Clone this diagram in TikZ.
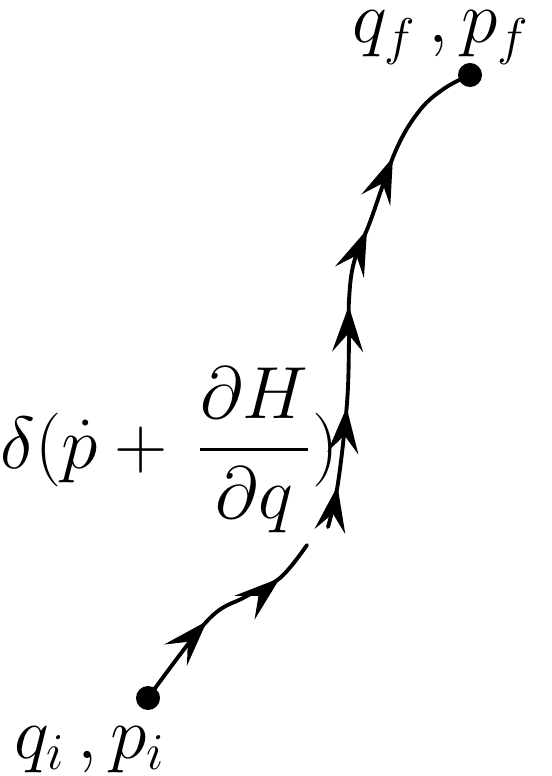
\RequirePackage{fix-cm}
\documentclass[tikz,border=0pt]{standalone}
\usepackage{amsmath}
\usetikzlibrary{arrows.meta, decorations.markings}

\newcommand{\flowtip}{\arrow{Stealth[length=4.6mm, width=3.1mm, inset=1.8mm]}}

\begin{document}
\begin{tikzpicture}[
    x=0.01cm, y=-0.01cm,
    endpoint/.style={circle, fill=black, inner sep=0pt, minimum size=2.4mm},
    lbl/.style={font=\fontsize{21}{25}\selectfont, inner sep=0pt},
    flow/.style={line width=1.1pt, line cap=round, postaction={decorate}},
]
\useasboundingbox (0,0) rectangle (552,776);

% End points
\node[endpoint] (qi) at (148,698) {};
\node[endpoint] (qf) at (470,75) {};

% Labels
\node[lbl, anchor=base] (qilab) at (90,758) {$q_i\,,p_i$};
\node[lbl, anchor=base] (qflab) at (441,43) {$q_f\,,p_f$};
\node[lbl, anchor=base west] (constraint) at (0,468)
    {$\displaystyle \delta(\dot p + \,\frac{\partial H}{\partial q})$};

% Break in the path
\coordinate (brkA) at (307,545);
\coordinate (brkB) at (328,527);

% Path
\draw[flow, decoration={markings,
        mark=at position 0.43 with {\flowtip},
        mark=at position 0.81 with {\flowtip}}]
    plot[smooth, tension=0.6] coordinates {(qi) (208,620) (245,597) (280,578) (brkA)};
\draw[flow, decoration={markings,
        mark=at position 0.085 with {\flowtip},
        mark=at position 0.245 with {\flowtip},
        mark=at position 0.45 with {\flowtip},
        mark=at position 0.61 with {\flowtip},
        mark=at position 0.765 with {\flowtip}}]
    plot[smooth, tension=0.6] coordinates {(brkB) (338,483) (347,403) (349,340) (349,300)
        (354,262) (370,222) (396,150) (420,110) (445,88) (qf)};

\end{tikzpicture}
\end{document}
